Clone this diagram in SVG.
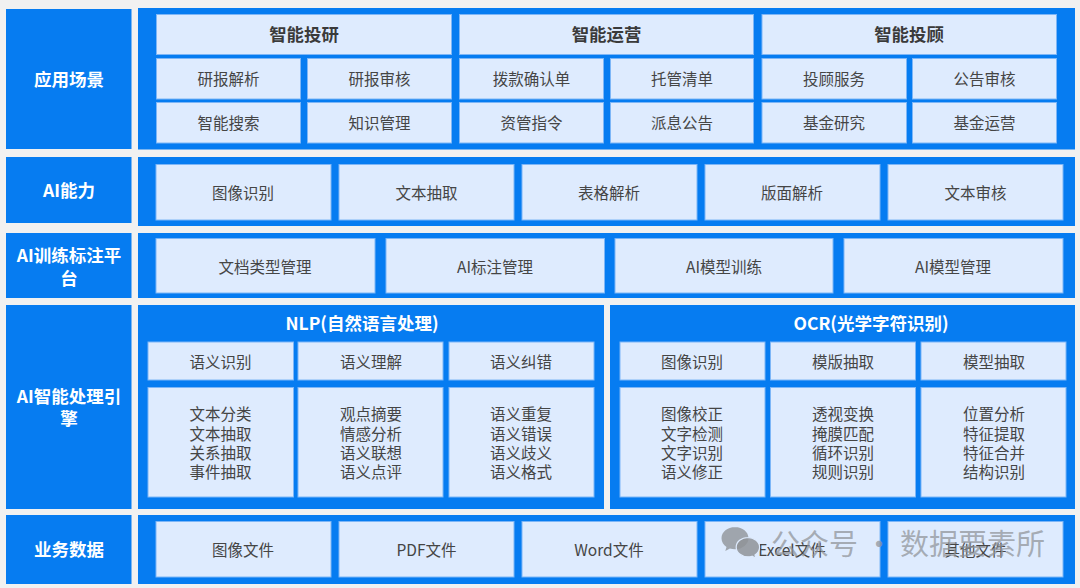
<svg xmlns="http://www.w3.org/2000/svg" width="1080" height="588" viewBox="0 0 1080 588">
<style>
.b{fill:#067cf1}
.c{fill:#deebfe;stroke:#7db6f7;stroke-width:1}
text{font-family:"Noto Sans CJK SC","Liberation Sans",sans-serif;text-anchor:middle}
.t{font-size:15.5px;fill:#454545}
.h{font-size:17.4px;font-weight:700;fill:#3a3a3a}
.w{font-size:17.5px;font-weight:700;fill:#fff}
.wm{font-size:29px;fill:#8f9398;fill-opacity:.72;text-anchor:start}
</style>
<rect width="1080" height="588" fill="#f1f1f1"/>
<g id="row-app">
<rect class="b" x="6" y="9" width="125.500" height="140"/><text class="w" x="69" y="85.500">应用场景</text>
<rect class="b" x="138" y="8" width="937" height="141.500"/>
<g id="app-1">
<rect class="c" x="156.500" y="14.500" width="295" height="40"/><text class="h" x="304" y="40.500">智能投研</text>
<rect class="c" x="156.500" y="58.500" width="144" height="40.500"/><text class="t" x="228.500" y="85">研报解析</text>
<rect class="c" x="307.500" y="58.500" width="144" height="40.500"/><text class="t" x="379.500" y="85">研报审核</text>
<rect class="c" x="156.500" y="102.500" width="144" height="40.500"/><text class="t" x="228.500" y="129">智能搜索</text>
<rect class="c" x="307.500" y="102.500" width="144" height="40.500"/><text class="t" x="379.500" y="129">知识管理</text>
</g>
<g id="app-2">
<rect class="c" x="459.500" y="14.500" width="294" height="40"/><text class="h" x="606.500" y="40.500">智能运营</text>
<rect class="c" x="459.500" y="58.500" width="144" height="40.500"/><text class="t" x="531.500" y="85">拨款确认单</text>
<rect class="c" x="610.500" y="58.500" width="143" height="40.500"/><text class="t" x="682" y="85">托管清单</text>
<rect class="c" x="459.500" y="102.500" width="144" height="40.500"/><text class="t" x="531.500" y="129">资管指令</text>
<rect class="c" x="610.500" y="102.500" width="143" height="40.500"/><text class="t" x="682" y="129">派息公告</text>
</g>
<g id="app-3">
<rect class="c" x="762" y="14.500" width="294.500" height="40"/><text class="h" x="909" y="40.500">智能投顾</text>
<rect class="c" x="762" y="58.500" width="144.500" height="40.500"/><text class="t" x="834" y="85">投顾服务</text>
<rect class="c" x="912.500" y="58.500" width="144" height="40.500"/><text class="t" x="984.500" y="85">公告审核</text>
<rect class="c" x="762" y="102.500" width="144.500" height="40.500"/><text class="t" x="834" y="129">基金研究</text>
<rect class="c" x="912.500" y="102.500" width="144" height="40.500"/><text class="t" x="984.500" y="129">基金运营</text>
</g>
</g>
<g id="row-ability">
<rect class="b" x="6" y="157" width="125.500" height="66"/><text class="w" x="69" y="197">AI能力</text>
<rect class="b" x="138" y="157" width="937" height="69"/>
<rect class="c" x="156" y="164.500" width="175" height="55.500"/><text class="t" x="243" y="199">图像识别</text>
<rect class="c" x="339" y="164.500" width="175" height="55.500"/><text class="t" x="426.500" y="199">文本抽取</text>
<rect class="c" x="522" y="164.500" width="175" height="55.500"/><text class="t" x="609" y="199">表格解析</text>
<rect class="c" x="705" y="164.500" width="175" height="55.500"/><text class="t" x="792" y="199">版面解析</text>
<rect class="c" x="888" y="164.500" width="175" height="55.500"/><text class="t" x="975.500" y="199">文本审核</text>
</g>
<g id="row-train">
<rect class="b" x="6" y="233" width="125.500" height="65"/><text class="w"><tspan x="69" y="262">AI训练标注平</tspan><tspan x="69" y="285">台</tspan></text>
<rect class="b" x="138" y="233" width="937" height="65"/>
<rect class="c" x="156" y="238.500" width="219" height="54.500"/><text class="t" x="265" y="272.500">文档类型管理</text>
<rect class="c" x="386" y="238.500" width="218.500" height="54.500"/><text class="t" x="495" y="272.500">AI标注管理</text>
<rect class="c" x="615" y="238.500" width="218" height="54.500"/><text class="t" x="724" y="272.500">AI模型训练</text>
<rect class="c" x="844" y="238.500" width="219" height="54.500"/><text class="t" x="953" y="272.500">AI模型管理</text>
</g>
<g id="row-engine">
<rect class="b" x="6" y="305" width="125.500" height="204"/><text class="w"><tspan x="69" y="403">AI智能处理引</tspan><tspan x="69" y="425">擎</tspan></text>
<g id="nlp">
<rect class="b" x="138" y="305" width="466" height="204"/><text class="w" x="362" y="330">NLP(自然语言处理)</text>
<rect class="c" x="148" y="342" width="145.500" height="38"/><text class="t" x="220.500" y="368">语义识别</text>
<rect class="c" x="298" y="342" width="145" height="38"/><text class="t" x="371" y="368">语义理解</text>
<rect class="c" x="449" y="342" width="145" height="38"/><text class="t" x="521" y="368">语义纠错</text>
<rect class="c" x="148" y="387.500" width="145.500" height="109.500"/>
<text class="t"><tspan x="220.500" y="420">文本分类</tspan><tspan x="220.500" y="439.500">文本抽取</tspan><tspan x="220.500" y="458.500">关系抽取</tspan><tspan x="220.500" y="478">事件抽取</tspan></text>
<rect class="c" x="298" y="387.500" width="145" height="109.500"/>
<text class="t"><tspan x="371" y="420">观点摘要</tspan><tspan x="371" y="439.500">情感分析</tspan><tspan x="371" y="458.500">语义联想</tspan><tspan x="371" y="478">语义点评</tspan></text>
<rect class="c" x="449" y="387.500" width="145" height="109.500"/>
<text class="t"><tspan x="521" y="420">语义重复</tspan><tspan x="521" y="439.500">语义错误</tspan><tspan x="521" y="458.500">语义歧义</tspan><tspan x="521" y="478">语义格式</tspan></text>
</g>
<g id="ocr">
<rect class="b" x="610" y="305" width="465" height="204"/><text class="w" x="871" y="330">OCR(光学字符识别)</text>
<rect class="c" x="620" y="342" width="145" height="38"/><text class="t" x="692" y="368">图像识别</text>
<rect class="c" x="770.500" y="342" width="145" height="38"/><text class="t" x="843" y="368">模版抽取</text>
<rect class="c" x="921" y="342" width="145" height="38"/><text class="t" x="994" y="368">模型抽取</text>
<rect class="c" x="620" y="387.500" width="145" height="109.500"/>
<text class="t"><tspan x="692" y="420">图像校正</tspan><tspan x="692" y="439.500">文字检测</tspan><tspan x="692" y="458.500">文字识别</tspan><tspan x="692" y="478">语义修正</tspan></text>
<rect class="c" x="770.500" y="387.500" width="145" height="109.500"/>
<text class="t"><tspan x="843" y="420">透视变换</tspan><tspan x="843" y="439.500">掩膜匹配</tspan><tspan x="843" y="458.500">循环识别</tspan><tspan x="843" y="478">规则识别</tspan></text>
<rect class="c" x="921" y="387.500" width="145" height="109.500"/>
<text class="t"><tspan x="994" y="420">位置分析</tspan><tspan x="994" y="439.500">特征提取</tspan><tspan x="994" y="458.500">特征合并</tspan><tspan x="994" y="478">结构识别</tspan></text>
</g>
</g>
<g id="row-data">
<rect class="b" x="6" y="515" width="125.500" height="69"/><text class="w" x="69" y="556">业务数据</text>
<rect class="b" x="138" y="515" width="937" height="69"/>
<rect class="c" x="156" y="521.500" width="175" height="55.500"/><text class="t" x="243" y="556">图像文件</text>
<rect class="c" x="339" y="521.500" width="175" height="55.500"/><text class="t" x="426.500" y="556">PDF文件</text>
<rect class="c" x="522" y="521.500" width="175" height="55.500"/><text class="t" x="609" y="556">Word文件</text>
<rect class="c" x="705" y="521.500" width="175" height="55.500"/><text class="t" x="792" y="556">Excel文件</text>
<rect class="c" x="888" y="521.500" width="175" height="55.500"/><text class="t" x="975.500" y="556">其他文件</text>
</g>
<g id="watermark">
<path d="M735 527c-7.500 0-13.500 5-13.500 11.200 0 3.600 2 6.700 5 8.800l-1.200 4 4.600-2.500c1.700.5 3.300.7 5.100.7 7.500 0 13.500-5 13.500-11 0-6.200-6-11.200-13.500-11.200z" fill="#8f9398" fill-opacity=".8"/>
<path d="M748 537.500c-6.600 0-11.800 4.300-11.800 9.700 0 5.300 5.200 9.600 11.800 9.600 1.300 0 2.700-.2 4-.6l4 2.200-1-3.400c2.700-1.800 4.600-4.700 4.600-7.800 0-5.400-5.400-9.700-11.800-9.700z" fill="#8f9398" stroke="#deebfe" stroke-width="1.200" fill-opacity=".85"/>
<text class="wm" x="771" y="555">公众号 · 数据要素所</text>
</g>
</svg>
